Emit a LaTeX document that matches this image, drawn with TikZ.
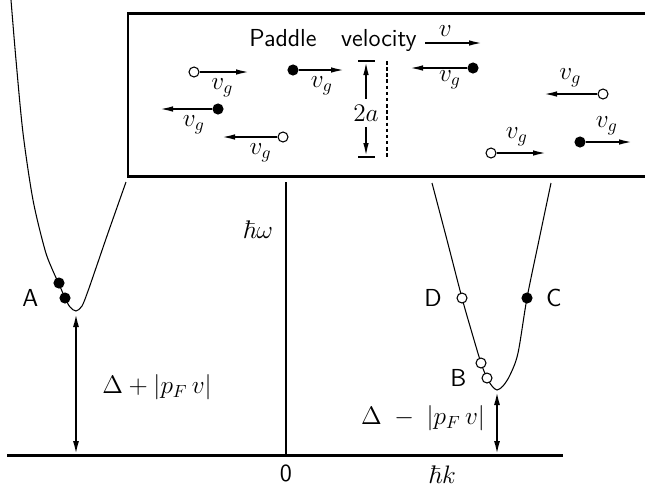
\documentclass[tikz,border=0pt]{standalone}
\usepackage{tikz}
\usetikzlibrary{
  arrows.meta,
  positioning
}
\usepackage{amsmath,amssymb}

\begin{document}
\begin{tikzpicture}[
  x=0.02cm, y=-0.02cm,
  every node/.style={font=\fontsize{14.5}{17}\selectfont},
  txt/.style={font=\sffamily\fontsize{14}{17}\selectfont},
  hole/.style={circle, draw, fill=white, line width=0.6pt, inner sep=0pt, minimum size=0.2cm},
  elec/.style={hole, fill=black},
  vel/.style={-{Latex[length=2.8mm,width=1.1mm]}, line width=1.1pt},
  gaparrow/.style={{Latex[length=2.8mm,width=1.2mm]}-{Latex[length=2.8mm,width=1.2mm]}, line width=1.2pt},
  band/.style={line width=0.6pt},
  axis/.style={line width=1.7pt}
]
  \useasboundingbox (0,0) rectangle (645,495);

  % Axes
  \coordinate (origin) at (286,455);
  \coordinate (wtop) at (286,182);
  \coordinate (kleft) at (7,455);
  \coordinate (kright) at (563,455);
  \draw[axis] (kleft) -- (kright);
  \draw[axis] (origin) -- (wtop);
  \node[txt, below=0.08cm of origin] (zero) {0};
  \node at (258,230) (omega) {$\hbar\omega$};
  \node at (442,475) (kaxis) {$\hbar k$};

  % Quasiparticle bands
  \draw[band] plot[smooth] coordinates {(11,0) (16,60) (23,133) (33,200) (45,250)
    (53,271) (59,284) (65,298) (70,307) (76,311) (82,306) (88,291) (97,265) (108,233) (126,182)};
  \draw[band] plot[smooth] coordinates {(432,183) (447,240) (462,298) (472,333) (481,363)
    (487,378) (492,386) (497,390) (503,386) (510,375) (518,353) (527,298) (539,240) (551,183)};

  % States on the bands
  \node[elec] (a1) at (59,283) {};
  \node[elec] (a2) at (65,298) {};
  \node[hole] (b1) at (481,363) {};
  \node[hole] (b2) at (487,378) {};
  \node[hole] (d1) at (462,298) {};
  \node[elec] (c1) at (527,298) {};
  \node[txt, left=0.3cm of a2] (labA) {A};
  \node[txt, left=0.18cm of b2] (labB) {B};
  \node[txt, right=0.15cm of c1] (labC) {C};
  \node[txt, left=0.17cm of d1] (labD) {D};

  % Gaps
  \coordinate (minA) at (76,313);
  \coordinate (baseA) at (76,455);
  \coordinate (minB) at (497,391);
  \coordinate (baseB) at (497,455);
  \draw[gaparrow] (minA) -- (baseA);
  \draw[gaparrow] (minB) -- (baseB);
  \node at (157,387) (gapA) {$\Delta+|p_F\,v|$};
  \node at (423,418) (gapB) {$\Delta\;-\;|p_F\,v|$};

  % Paddle frame
  \draw[axis] (645,13) -- (128,13) -- (128,176) -- (645,176);
  \node[txt] at (333,40) (paddle) {Paddle\quad velocity};
  \coordinate (vtail) at (425,43);
  \coordinate (vhead) at (483,43);
  \draw[vel] (vtail) -- node[above, pos=0.35] {$v$} (vhead);

  % Paddle width
  \node at (366,113) (twoa) {$2a$};
  \coordinate (bartop) at (366,61);
  \coordinate (barbot) at (366,157);
  \draw[vel] (twoa) -- (bartop);
  \draw[vel] (twoa) -- (barbot);
  \draw[band] (358,61) -- (375,61);
  \draw[band] (358,157) -- (375,157);
  \draw[band, dash pattern=on 2pt off 1.5pt] (387,61) -- (387,157);

  % Reflected quasiparticles
  \node[hole] (q1) at (194,72) {};
  \coordinate (q1v) at (250,72);
  \draw[vel] (q1) -- node[below, pos=0.45] {$v_g$} (q1v);
  \node[elec] (q2) at (293,70) {};
  \coordinate (q2v) at (345,70);
  \draw[vel] (q2) -- node[below, pos=0.5] {$v_g$} (q2v);
  \node[elec] (q3) at (473,68) {};
  \coordinate (q3v) at (409,68);
  \draw[vel] (q3) -- node[below, pos=0.3, inner sep=1pt] {$v_g$} (q3v);
  \node[hole] (q4) at (603,94) {};
  \coordinate (q4v) at (543,94);
  \draw[vel] (q4) -- node[above, pos=0.5] {$v_g$} (q4v);
  \node[elec] (q5) at (218,109) {};
  \coordinate (q5v) at (159,109);
  \draw[vel] (q5) -- node[below, pos=0.35] {$v_g$} (q5v);
  \node[hole] (q6) at (283,137) {};
  \coordinate (q6v) at (221,137);
  \draw[vel] (q6) -- node[below, pos=0.3] {$v_g$} (q6v);
  \node[hole] (q7) at (491,153) {};
  \coordinate (q7v) at (547,153);
  \draw[vel] (q7) -- node[above, pos=0.4] {$v_g$} (q7v);
  \node[elec] (q8) at (580,142) {};
  \coordinate (q8v) at (633,142);
  \draw[vel] (q8) -- node[above, pos=0.45] {$v_g$} (q8v);

\end{tikzpicture}
\end{document}
